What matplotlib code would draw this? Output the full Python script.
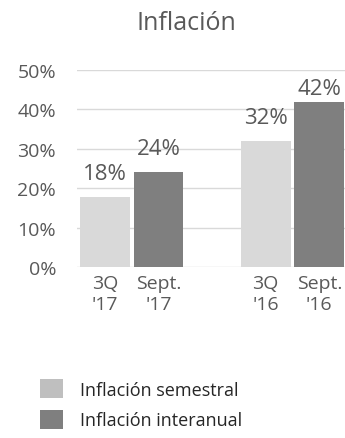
import matplotlib
matplotlib.use("Agg")
import matplotlib.pyplot as plt
from matplotlib.patches import Patch

categories = ["3Q\n'17", "Sept.\n'17", "3Q\n'16", "Sept.\n'16"]
series_names = ["Inflación semestral", "Inflación interanual"]
values = [17.8, 24.2, 32.0, 41.8]
series_idx = [0, 1, 0, 1]
labels = ["18%", "24%", "32%", "42%"]
yticks = [0, 10, 20, 30, 40, 50]
title = "Inflación"

positions = [0, 1, 3, 4]
colors = ["#d9d9d9", "#7f7f7f"]
legend_colors = ["#bfbfbf", "#7f7f7f"]
text_color = "#595959"
font = "Open Sans"

plt.rcParams["font.family"] = [font, "DejaVu Sans"]

fig = plt.figure(figsize=(3.45, 4.39), dpi=100)
W, H = 345, 439
ax = fig.add_axes([77 / W, 1 - 268 / H, 1 - 77 / W, (268 - 71) / H])

bar_colors = [colors[i] for i in series_idx]
ax.bar(positions, values, width=0.93, color=bar_colors, zorder=3)

ax.set_xlim(-0.52, 4.48)
ax.set_ylim(0, 50)
ax.set_yticks(yticks)
ax.set_yticklabels([f"{t}%" for t in yticks], fontsize=14, color=text_color)
ax.set_xticks(positions)
ax.set_xticklabels(categories, fontsize=14, color=text_color, linespacing=1.25)
ax.tick_params(axis="both", length=0)
ax.tick_params(axis="y", pad=15)
ax.tick_params(axis="x", pad=5)
ax.grid(axis="y", color="#d9d9d9", linewidth=1, zorder=0)
ax.set_axisbelow(True)
for s in ax.spines.values():
    s.set_visible(False)

offsets = [13, 13, 13, 6]
for x, v, lab, off in zip(positions, values, labels, offsets):
    ax.annotate(lab, (x, v), xytext=(0, off), textcoords="offset points",
                ha="center", va="baseline", fontsize=16, color=text_color,
                annotation_clip=False)

fig.text(186 / W, 1 - 24 / H, title, ha="center", va="center",
         fontsize=18, color=text_color)

handles = [Patch(facecolor=c, edgecolor="none") for c in legend_colors]
fig.legend(handles, series_names, loc="upper left",
           bbox_to_anchor=(24 / W, 1 - 364 / H), frameon=False,
           fontsize=13, labelcolor="#262626", handlelength=1.25,
           handleheight=1.25, handletextpad=0.95, labelspacing=0.6)

fig.savefig("out.png", dpi=100)
